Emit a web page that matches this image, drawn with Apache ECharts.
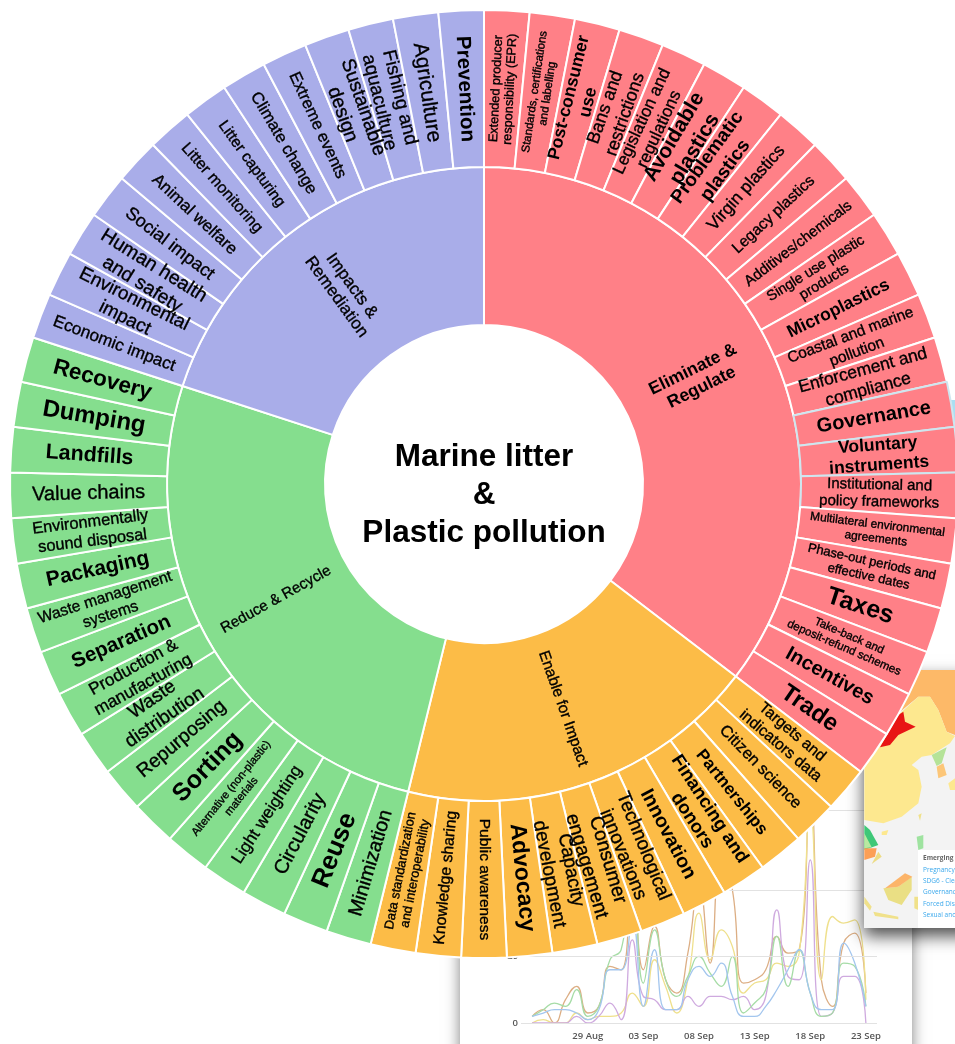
<!DOCTYPE html>
<html><head><meta charset="utf-8">
<style>html,body{margin:0;padding:0;background:#fff;overflow:hidden}#c{width:955px;height:1044px}</style>
<script src="https://cdn.jsdelivr.net/npm/echarts@6/dist/echarts.min.js"></script>
</head><body><div id="c"></div>
<script>
// ---------- wheel data ----------
const centerTitle = 'Marine litter\n&\nPlastic pollution';
const groupNames = ['Eliminate &\nRegulate', 'Enable for Impact', 'Reduce & Recycle', 'Impacts &\nRemediation'];
const eliminateTopics = ['Extended producer\nresponsibility (EPR)','Standards, certifications\nand labelling','Post-consumer\nuse','Bans and\nrestrictions','Legislation and\nregulations','Avoidable\nplastics','Problematic\nplastics','Virgin plastics','Legacy plastics','Additives/chemicals','Single use plastic\nproducts','Microplastics','Coastal and marine\npollution','Enforcement and\ncompliance','Governance','Voluntary\ninstruments','Institutional and\npolicy frameworks','Multilateral environmental\nagreements','Phase-out periods and\neffective dates','Taxes','Take-back and\ndeposit-refund schemes','Incentives','Trade'];
const enableTopics = ['Targets and\nindicators data','Citizen science','Partnerships','Financing and\ndonors','Innovation','Technological\ninnovations','Consumer\nengagement','Capacity\ndevelopment','Advocacy','Public awareness','Knowledge sharing','Data standardization\nand interoperability'];
const reduceTopics = ['Minimization','Reuse','Circularity','Light weighting','Alternative (non-plastic)\nmaterials','Sorting','Repurposing','Waste\ndistribution','Production &\nmanufacturing','Separation','Waste management\nsystems','Packaging','Environmentally\nsound disposal','Value chains','Landfills','Dumping','Recovery'];
const impactTopics = ['Economic impact','Environmental\nimpact','Human health\nand safety','Social impact','Animal welfare','Litter monitoring','Litter capturing','Climate change','Extreme events','Sustainable\ndesign','Fishing and\naquaculture','Agriculture','Prevention'];
const topicValue = 1;

// ---------- background line chart data ----------
const days = ['24 Aug','25 Aug','26 Aug','27 Aug','28 Aug','29 Aug','30 Aug','31 Aug','01 Sep','02 Sep','03 Sep','04 Sep','05 Sep','06 Sep','07 Sep','08 Sep','09 Sep','10 Sep','11 Sep','12 Sep','13 Sep','14 Sep','15 Sep','16 Sep','17 Sep','18 Sep','19 Sep','20 Sep','21 Sep','22 Sep','23 Sep'];
const shownDays = ['29 Aug','03 Sep','08 Sep','13 Sep','18 Sep','23 Sep'];
const tanLine = [2,4,0,7,11,3,5,17,16,45,16,29,13,9,21,42,18,50,40,12,13,16,26,21,22,68,13,5,24,27,9];
const yellowLine = [0,1,0,0,3,1,2,2,3,9,5,19,11,3,13,33,19,28,23,9,12,13,18,17,21,64,13,32,30,31,7];
const purpleLine = [0,0,0,0,2,0,2,6,1,25,8,7,4,4,8,5,8,8,7,8,4,8,34,14,13,49,2,3,14,14,0];
const greenLine = [2,4,6,5,10,2,5,19,22,45,12,28,13,8,14,20,15,11,20,3,6,10,26,11,22,9,2,3,18,17,5];
const blueLine = [2,3,4,4,3,1,4,16,16,31,5,22,4,4,13,17,14,18,8,2,2,5,10,16,22,9,4,4,24,18,5];
const mapLegend = ['Emerging issues','Pregnancy and','SDG6 - Clean','Governance','Forced Displacement','Sexual and Reproductive'];

// ---------- styles ----------
const groupColors = ['#ff8087','#fcbc47','#85de8e','#a9ade9'];
const groupFonts = [[17.5,1],[15.5],[15],[17]];
const eliminateFonts = [[12.7],[11.5],[17.5,1],[18],[17],[21,1],[19,1],[17.5],[15.5],[14.9],[14.4],[17.5,1],[15.4],[17.4],[20,1],[17.5,1],[15],[11.9],[13],[25,1],[11.5],[20,1],[24,1]];
const enableFonts = [[15.7],[16.3],[17,1],[18.5,1],[19.5,1],[19],[19.5],[19],[23,1],[15.5],[15.8],[13]];
const reduceFonts = [[19.8],[26,1],[20],[17],[11.3],[25,1],[19.3],[18.9],[17.2],[20.5,1],[15.7],[21,1],[16.4],[20],[21.4,1],[24,1],[22.5,1]];
const impactFonts = [[17],[18.8],[19.5],[18],[16.7],[15.9],[15.5],[16.6],[16.6],[19.4],[18.8],[21],[20.5,1]];
const paleSeparators = ['Governance','Voluntary\ninstruments','Institutional and\npolicy frameworks'];

const FONT = '"Liberation Sans", Arial, sans-serif';
function fontStyle(f){
  return { fontSize: f[0], fontWeight: f[1] ? 'bold' : 'normal', lineHeight: Math.round(f[0]*1.14),
           textBorderColor:'#000', textBorderWidth: f[1] ? 0 : 0.35 };
}
function leaf(name, f, color){
  return { name, value: topicValue,
    itemStyle: { color, borderColor: paleSeparators.includes(name) ? '#cfe6ef' : '#fff', borderWidth: 2 },
    label: fontStyle(f) };
}
function group(i, topics, fonts){
  return { name: groupNames[i], itemStyle: { color: groupColors[i], borderColor:'#fff', borderWidth:2 },
    label: fontStyle(groupFonts[i]),
    children: topics.map((t,k)=>leaf(t,fonts[k],groupColors[i])) };
}
const wheel = [group(0,eliminateTopics,eliminateFonts),group(1,enableTopics,enableFonts),group(2,reduceTopics,reduceFonts),group(3,impactTopics,impactFonts)];

// Background screenshot map, sketched (zoomed-crop coords -> page px)
const mp = pts => pts.map(p=>[855+p[0]/3, 660+p[1]/3]);
const poly = (pts,fill) => ({type:'polygon',z:4,silent:true,shape:{points:mp(pts)},style:{fill}});
const mapShapes = [
 poly([[28,30],[300,30],[300,225],[275,215],[250,150],[225,110],[190,110],[130,160],[28,300]],'#fdb968'),
 poly([[28,280],[130,165],[190,110],[225,110],[250,150],[275,215],[300,228],[285,250],[230,285],[200,290],[170,315],[190,330],[200,380],[190,430],[140,470],[85,490],[28,480]],'#fde88f'),
 poly([[75,262],[130,165],[145,155],[150,185],[182,200],[130,225],[105,255]],'#e81515'),
 poly([[230,285],[275,262],[260,310],[245,318]],'#b5e398'),
 poly([[245,320],[265,310],[275,345],[250,355]],'#fcc678'),
 poly([[280,370],[300,355],[300,390],[285,390]],'#fde88f'),
 poly([[190,465],[200,460],[195,482]],'#f0e18a'),
 poly([[80,515],[100,510],[95,525],[80,525]],'#fde88f'),
 poly([[185,530],[205,525],[205,565],[190,570]],'#9fe3a0'),
 poly([[28,495],[45,510],[70,555],[28,570]],'#3ec878'),
 poly([[28,520],[50,562],[28,565]],'#b9e8a0'),
 poly([[28,565],[65,565],[60,590],[28,600]],'#fc9f56'),
 poly([[70,575],[80,590],[50,612]],'#eddc84'),
 poly([[85,685],[130,680],[170,650],[170,690],[140,735],[100,720]],'#eadf84'),
 poly([[90,685],[150,640],[172,650],[130,680]],'#fcb469'),
 poly([[28,710],[50,740],[45,752],[28,730]],'#f0e18a'),
 poly([[55,755],[130,770],[130,778],[60,768]],'#f0e18a'),
 poly([[178,710],[190,710],[190,750],[178,745]],'#f0e18a')
];

const option = {
  animation: false,
  backgroundColor: '#fff',
  grid: { left: 521, width: 356, top: 790, height: 233, containLabel: false },
  xAxis: { type: 'category', z: 3, boundaryGap: false, data: ['', ...days, ''],
    axisLine: { show: false }, axisTick: { show: false }, splitLine: { show: false },
    axisLabel: { interval: (i, v) => shownDays.includes(v), color: '#555', fontFamily: '"Open Sans"', fontSize: 9.5, fontWeight: 600, margin: 8 } },
  yAxis: { type: 'value', z: 3, min: 0, max: 70, axisLine:{show:false}, axisTick:{show:false, customValues:[0,20,40,64]},
    axisLabel: { customValues: [0,20,40], color: '#555', fontFamily: '"Open Sans"', fontSize: 9.5, fontWeight: 600, margin: 3 },
    splitLine: { show: true, lineStyle: { color: '#e2e2e2', width: 1.2 } } },
  graphic: { elements: [
    { type:'rect', z:1, silent:true, shape:{x:460,y:760,width:452,height:300}, style:{fill:'#fff',shadowBlur:14,shadowColor:'rgba(0,0,0,0.5)'} },
    { type:'rect', z:1, silent:true, shape:{x:900,y:400,width:55,height:120}, style:{fill:'#a9dff2'} },
    { type:'rect', z:4, silent:true, shape:{x:864,y:670,width:120,height:258}, style:{fill:'#f3f3f3',shadowBlur:16,shadowOffsetY:8,shadowColor:'rgba(0,0,0,0.7)'} },
    ...mapShapes,
    { type:'rect', z:4, silent:true, shape:{x:918,y:850,width:60,height:78}, style:{fill:'#fff'} },
    ...mapLegend.map((t,i)=>({ type:'text', z:4, silent:true, x:923, y:855+i*11.3,
       style:{ text:t, fontFamily:'"Open Sans"', fontSize:6.5, fontWeight:i?'normal':'bold', fill:i?'#3aa8ec':'#666' } })),
    { type:'text', z:30, silent:true, x:484, y:495,
      style:{ text:centerTitle, fontFamily:FONT, fontSize:31.5, fontWeight:'bold', fill:'#000', align:'center', verticalAlign:'middle', lineHeight:38 } }
  ]},
  series: [
    ...[[tanLine,'#dcae84'],[yellowLine,'#efe08c'],[purpleLine,'#cfaadf'],[greenLine,'#a6dca6'],[blueLine,'#a3c6ee']].map(([d,c])=>({
      type:'line', z:2, smooth:0.5, symbol:'none', lineStyle:{color:c,width:1.3}, data:[null,...d], clip:true })),
    { type:'sunburst', z:10, center:[484,484], radius:[159,474], startAngle:90, sort:null, nodeClick:false,
      emphasis:{disabled:true}, data: wheel,
      label:{ rotate:'radial', color:'#000', fontFamily:FONT, align:'center', verticalAlign:'middle' },
      levels:[ {}, {r0:159,r:317,label:{rotate:'radial'}}, {r0:317,r:474,label:{rotate:'radial'}} ] }
  ]
};
echarts.init(document.getElementById('c'),null,{renderer:'canvas'}).setOption(option);
</script></body></html>
